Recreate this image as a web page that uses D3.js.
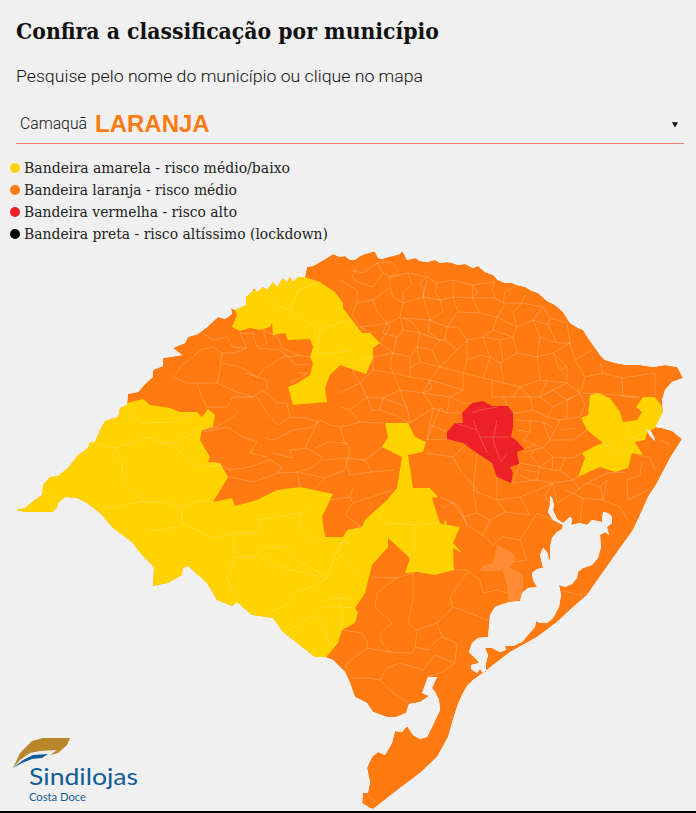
<!DOCTYPE html>
<html>
<head>
<meta charset="utf-8">
<script src="https://cdn.jsdelivr.net/npm/d3@7"></script>
<style>
  html, body { margin: 0; padding: 0; background: #f0f0f0; overflow: hidden; }
  svg { display: block; }
</style>
</head>
<body>
<div id="chart"></div>
<script>
// Texts
const titleText = 'Confira a classificação por município';
const subtitleText = 'Pesquise pelo nome do município ou clique no mapa';
const selectedCity = 'Camaquã';
const selectedFlag = 'LARANJA';
const legendLabels = [
    'Bandeira amarela - risco médio/baixo',
    'Bandeira laranja - risco médio',
    'Bandeira vermelha - risco alto',
    'Bandeira preta - risco altíssimo (lockdown)'
];
const legendFlags = ['amarela', 'laranja', 'vermelha', 'preta'];
const legendWidths = [266, 213, 213, 304];

// Map shapes on a plain map grid
const stateOutline = [[16,510],[25,508],[32,502],[42,495],[43,485],[50,477],[58,476],[68,468],[78,455],[88,448],[90,442],[95,442],[100,430],[105,421],[118,417],[120,408],[127,405],[128,394],[138,392],[147,382],[153,377],[153,370],[163,366],[163,358],[170,357],[182,355],[173,348],[185,343],[188,337],[198,334],[207,327],[218,317],[225,319],[232,314],[231,308],[235,310],[246,305],[246,297],[252,292],[254,288],[257,292],[263,287],[267,290],[273,282],[277,287],[283,278],[287,282],[290,277],[293,282],[298,277],[305,277],[307,267],[313,266],[320,262],[327,258],[333,254],[340,257],[345,256],[350,260],[355,260],[360,256],[365,254],[372,252],[375,252],[378,258],[382,259],[388,257],[393,256],[400,254],[402,251],[404,254],[407,260],[415,258],[420,261],[427,262],[435,260],[440,263],[447,262],[452,263],[458,265],[465,264],[473,268],[478,266],[485,272],[493,275],[498,280],[505,283],[512,283],[517,285],[525,287],[532,291],[538,293],[547,301],[555,305],[563,312],[570,323],[578,328],[583,330],[588,338],[593,345],[600,355],[605,360],[615,363],[627,365],[640,365],[653,367],[665,365],[677,367],[680,372],[683,378],[672,382],[665,390],[662,400],[663,412],[655,427],[662,428],[672,431],[682,439],[670,458],[657,483],[648,497],[640,515],[633,530],[620,548],[603,572],[587,595],[572,608],[557,622],[537,637],[510,652],[493,665],[483,673],[473,680],[467,686],[463,693],[458,704],[455,713],[448,737],[437,757],[420,773],[400,788],[373,809],[370,808],[362,803],[363,793],[368,793],[370,782],[367,768],[372,757],[378,752],[385,755],[392,743],[395,731],[402,732],[407,726],[413,735],[420,739],[427,737],[433,725],[440,710],[439,700],[435,692],[432,688],[437,677],[428,677],[422,693],[429,696],[420,702],[409,704],[406,713],[396,717],[387,717],[373,712],[367,703],[355,697],[350,683],[345,672],[333,660],[325,657],[315,657],[283,632],[273,618],[252,615],[237,602],[232,606],[217,600],[207,583],[188,566],[183,568],[182,575],[168,583],[153,586],[154,567],[142,555],[132,542],[113,528],[100,513],[87,503],[77,498],[65,497],[58,503],[57,508],[52,512],[35,512],[25,512],[22,510]];

const patosLagoon = [[550,496],[552,498],[554,505],[553,510],[557,519],[563,523],[570,517],[572,519],[571,525],[575,524],[580,523],[587,525],[592,520],[602,522],[603,512],[608,513],[612,517],[612,523],[607,527],[609,535],[605,532],[600,535],[601,547],[598,558],[592,565],[583,568],[578,572],[577,578],[572,584],[565,587],[559,585],[561,595],[559,607],[553,618],[547,623],[540,623],[536,621],[535,627],[528,635],[522,642],[513,646],[505,646],[506,650],[500,652],[492,648],[485,648],[488,655],[486,663],[486,672],[483,673],[480,669],[477,673],[471,669],[471,665],[479,663],[477,660],[469,652],[472,643],[478,638],[488,637],[489,627],[490,615],[495,607],[503,604],[510,602],[520,601],[522,593],[528,588],[537,587],[533,580],[532,573],[537,569],[543,568],[540,555],[543,548],[547,552],[550,562],[550,547],[552,538],[557,532],[562,529],[563,525],[553,520],[548,512],[550,505],[548,498]];

const smallLagoon = [[646,429],[650,430],[654,437],[655,441],[650,436],[646,434]];

// the flag areas run over the coast a little and are clipped to the state
const yellowNorth = [[231,300],[237,315],[232,327],[240,331],[250,328],[260,330],[270,327],[272,323],[273,335],[285,333],[288,340],[310,339],[313,347],[310,357],[313,363],[310,375],[298,383],[288,387],[293,405],[327,402],[325,388],[330,375],[340,365],[366,374],[373,358],[373,348],[380,343],[370,333],[362,333],[343,308],[343,303],[335,292],[320,282],[305,277],[300,270],[250,270]];

const yellowSouth = [[127,403],[143,399],[150,405],[170,408],[180,412],[197,412],[202,417],[208,409],[215,415],[213,427],[202,430],[200,440],[210,457],[208,462],[220,463],[228,477],[213,502],[232,498],[235,506],[257,500],[277,490],[300,487],[333,494],[322,517],[325,537],[343,537],[347,530],[362,527],[365,520],[387,500],[397,488],[402,457],[382,447],[388,437],[385,423],[408,423],[415,437],[426,442],[423,452],[408,455],[413,488],[430,488],[438,497],[432,498],[440,523],[444,525],[445,518],[447,525],[460,527],[453,543],[462,553],[453,548],[454,570],[435,575],[417,572],[405,573],[410,558],[388,538],[388,547],[372,565],[365,593],[355,608],[358,613],[355,623],[342,630],[338,643],[327,656],[325,660],[300,660],[150,600],[10,520],[10,480],[110,400]];

const yellowEast = [[590,395],[598,393],[610,398],[620,412],[623,422],[637,420],[642,412],[636,407],[643,397],[655,397],[663,408],[662,418],[655,428],[647,433],[645,440],[635,442],[643,455],[632,453],[628,468],[615,472],[600,467],[578,477],[585,458],[582,453],[597,445],[603,443],[587,430],[581,418],[588,415],[592,405]];

const redArea = [[472,403],[483,401],[492,406],[508,406],[513,413],[513,427],[511,437],[516,440],[524,449],[517,452],[519,464],[510,467],[513,473],[511,483],[497,477],[492,463],[477,453],[463,443],[447,439],[447,432],[455,423],[463,423],[462,413],[472,413]];

const camaquaArea = [[497,545],[508,550],[517,558],[510,568],[523,575],[523,590],[520,600],[508,602],[507,585],[502,570],[487,572],[480,570],[482,566],[493,563],[495,553]];

// Municipality borders
const municipalBorders = [
    // north-west
    [[173,377],[182,365],[193,357],[200,350],[213,347]],
    [[173,377],[187,383],[197,383],[217,383],[220,370],[222,353],[213,347]],
    [[197,383],[202,397],[207,407],[227,407],[233,397],[253,397],[263,390]],
    [[217,383],[237,392],[253,397]],
    [[222,363],[243,368],[257,377],[267,380],[267,390]],
    [[263,390],[277,403],[287,403],[290,417],[278,425],[267,413],[257,397]],
    [[233,407],[238,413],[217,427],[202,430]],
    [[203,432],[227,427],[243,437],[257,442],[250,453],[267,457]],
    [[265,438],[272,440],[280,437],[293,430],[310,428],[320,420],[330,425],[340,427],[350,425]],
    [[213,462],[230,470],[250,467],[270,460],[282,467],[278,473],[253,482],[230,477]],
    [[278,473],[297,472],[300,487]],
    [[297,472],[320,477],[325,478],[317,487]],
    [[273,453],[293,458],[290,450],[307,448],[323,458],[313,467],[297,472]],
    [[315,448],[328,442],[347,443],[350,450]],
    [[305,448],[318,422]],
    [[203,333],[213,340],[227,337],[233,347],[247,348],[240,333],[253,333],[257,347],[267,343],[263,330],[278,337],[282,348],[298,355],[310,357]],
    [[222,353],[233,353],[247,348]],
    [[258,348],[280,350],[287,357],[300,355]],
    [[245,373],[257,377],[265,368],[287,355],[295,365],[310,364]],
    [[297,373],[308,373],[290,383]],
    [[290,417],[305,418],[318,422]],
    [[350,450],[345,470],[325,478]],
    // north and centre
    [[350,270],[363,273],[377,263],[383,273],[373,287],[360,283]],
    [[390,277],[408,273],[427,277],[437,283],[453,280],[473,285],[495,282]],
    [[340,280],[357,290],[357,303],[373,300],[390,287],[390,277],[383,273]],
    [[373,300],[377,312],[387,323],[400,317],[403,303],[393,297],[390,287]],
    [[403,303],[423,297],[427,280]],
    [[423,297],[440,300],[453,297],[453,280]],
    [[453,297],[472,298],[473,285]],
    [[472,298],[495,298],[503,303],[522,303],[543,307]],
    [[423,297],[430,320],[447,327],[445,340],[457,350],[467,340],[483,337],[493,330],[497,317],[480,313],[472,298]],
    [[400,317],[403,330],[397,337],[383,333],[387,323]],
    [[430,320],[403,318]],
    [[403,330],[420,333],[440,340],[445,340]],
    [[397,337],[393,353],[410,357],[417,347],[420,333]],
    [[410,357],[410,377],[430,380],[440,367],[457,350]],
    [[393,353],[373,357],[373,370],[393,373],[410,377]],
    [[393,373],[400,390],[423,393],[430,380]],
    [[373,370],[360,383],[367,397],[383,398],[400,390]],
    [[340,393],[360,383]],
    [[367,397],[350,410],[360,422],[383,423]],
    [[350,410],[340,407]],
    [[383,398],[407,407],[410,423],[433,408],[447,413],[462,413]],
    [[423,393],[433,408]],
    [[423,393],[450,397],[463,403],[472,403]],
    [[440,367],[463,373],[463,390],[450,397]],
    [[467,340],[467,360],[463,373]],
    [[463,373],[483,378],[492,380],[492,397],[503,397],[508,406]],
    [[483,337],[490,357],[483,378]],
    [[493,330],[513,337],[517,327],[533,320],[543,307]],
    [[497,317],[517,327]],
    [[513,337],[517,353],[500,363],[503,377]],
    [[517,353],[537,357],[553,353],[570,343],[567,323]],
    [[533,320],[540,337],[537,357]],
    [[540,337],[557,343],[570,343]],
    [[537,357],[540,380],[520,387],[503,383],[503,377]],
    [[540,380],[567,383],[567,367],[553,353]],
    [[520,387],[530,397],[533,410],[517,413],[513,413]],
    [[567,383],[580,393],[585,377],[603,373],[622,378],[655,373]],
    [[530,397],[540,397],[547,380]],
    [[540,397],[553,407],[547,417],[560,420],[580,417]],
    [[533,410],[547,417]],
    [[553,407],[573,397],[580,393]],
    [[517,420],[543,422],[550,440],[543,448],[523,440]],
    [[550,440],[573,440],[587,430]],
    [[560,420],[550,440]],
    [[523,452],[543,448],[553,457],[573,458],[582,453]],
    [[520,463],[540,467],[553,457]],
    [[540,467],[537,480],[553,483],[573,480]],
    [[553,483],[557,503],[573,493],[587,483],[607,473]],
    [[520,463],[513,483],[537,480]],
    [[622,378],[623,397],[640,397]],
    [[583,393],[617,395],[637,397]],
    [[655,373],[655,395]],
    [[380,343],[390,327],[387,323]],
    [[380,343],[393,353]],
    [[427,440],[440,408],[447,413]],
    [[447,439],[427,440]],
    [[426,453],[453,457],[467,443]],
    [[453,457],[462,473],[477,490]],
    [[477,453],[473,490],[497,500]],
    [[497,477],[497,500],[520,497]],
    [[440,497],[453,503],[463,517],[477,513],[473,490]],
    // smaller cells of the north
    [[357,266],[352,278],[360,283]],
    [[377,263],[392,262],[398,270],[390,277]],
    [[408,273],[412,285],[403,292],[403,303]],
    [[427,277],[420,283],[424,290],[423,297]],
    [[437,283],[435,292],[440,300]],
    [[473,285],[478,292],[472,298]],
    [[495,282],[492,290],[495,298]],
    [[503,303],[505,292],[517,285]],
    [[522,303],[525,295]],
    [[543,307],[550,318],[567,323]],
    [[533,320],[548,325],[550,318]],
    [[548,325],[557,343]],
    [[357,303],[352,315],[360,327],[377,325],[387,323]],
    [[360,327],[372,333]],
    [[440,300],[443,312],[430,320]],
    [[453,297],[458,312],[447,327]],
    [[458,312],[480,313]],
    [[467,340],[458,327],[447,327]],
    [[403,318],[412,322],[420,333]],
    [[430,320],[428,332],[440,340]],
    [[417,347],[432,350],[440,340]],
    [[432,350],[440,367]],
    [[497,317],[505,305]],
    [[517,327],[513,312],[522,303]],
    [[483,337],[500,340],[513,337]],
    [[500,340],[503,360]],
    [[490,357],[500,363]],
    [[467,360],[480,355],[490,357]],
    [[393,353],[390,365],[393,373]],
    [[417,347],[420,362],[410,368]],
    [[420,362],[440,367]],
    [[373,357],[362,360],[352,370],[360,383]],
    [[430,380],[447,385],[463,390]],
    [[423,393],[432,388],[430,380]],
    [[400,390],[403,400],[407,407]],
    [[383,398],[380,410],[395,415],[410,423]],
    [[367,397],[372,410],[380,410]],
    [[450,397],[447,413]],
    [[433,408],[430,425],[427,440]],
    [[430,425],[447,432]],
    // smaller cells of the east
    [[503,383],[492,380]],
    [[520,387],[513,397],[503,397]],
    [[513,397],[530,397]],
    [[553,353],[560,370],[567,367]],
    [[585,377],[575,360],[570,343]],
    [[575,360],[592,350]],
    [[603,373],[600,362]],
    [[567,383],[553,390],[540,397]],
    [[553,390],[567,400],[573,397]],
    [[567,400],[567,418]],
    [[580,417],[585,405],[580,393]],
    [[517,430],[530,432],[530,420]],
    [[530,432],[523,440]],
    [[543,422],[553,428]],
    [[560,430],[575,428]],
    [[524,449],[535,445]],
    [[530,455],[540,467]],
    [[530,455],[537,448]],
    [[553,457],[552,470],[560,470],[565,458]],
    [[560,470],[573,480],[578,477]],
    [[540,467],[552,470]],
    [[525,470],[537,472]],
    [[520,475],[530,480],[537,480]],
    [[553,483],[545,495],[550,505]],
    [[573,480],[580,490]],
    [[587,483],[600,487],[607,480]],
    [[607,473],[625,472]],
    [[627,480],[640,475],[642,462]],
    [[632,453],[650,458]],
    [[650,458],[655,470]],
    [[660,440],[670,445]],
    [[600,487],[603,500]],
    [[497,500],[505,512],[530,515]],
    [[477,513],[490,520],[505,512]],
    [[490,520],[483,535]],
    [[463,517],[467,525]],
    [[520,497],[538,490],[553,483]],
    [[520,497],[530,515]],
    // centre-west
    [[350,425],[360,422]],
    [[340,427],[345,445],[347,443]],
    [[325,460],[345,458],[365,460],[382,447]],
    [[345,458],[350,475]],
    [[350,475],[372,472],[395,470]],
    [[330,500],[350,497]],
    [[365,460],[372,472]],
    [[353,503],[345,515],[362,527]],
    // south
    [[443,508],[453,502],[460,508],[467,525],[483,535],[493,545]],
    [[493,545],[502,537],[520,540],[527,560],[515,562]],
    [[520,540],[537,513],[553,520]],
    [[453,570],[467,570],[480,580],[483,593],[497,590],[507,593]],
    [[467,573],[450,597],[453,607],[467,612],[488,620]],
    [[453,607],[437,623],[442,637],[457,643],[455,663]],
    [[437,623],[417,630],[415,647],[428,650],[437,640],[442,637]],
    [[413,573],[413,600],[408,623],[417,630]],
    [[397,577],[377,593],[375,607],[392,623],[380,633],[382,643],[390,652],[412,653],[415,647]],
    [[372,577],[397,578],[415,572]],
    [[342,630],[362,633],[368,643],[367,648],[390,652]],
    [[367,648],[347,663],[345,672]],
    [[350,678],[367,678],[380,680],[390,690],[400,697],[408,703]],
    [[380,680],[387,668],[400,663],[423,670],[435,655],[455,663]],
    [[455,663],[443,672],[427,677]],
    [[450,717],[457,717]],
    [[560,590],[580,595],[587,593]],
    [[370,797],[380,805]],
    [[362,803],[370,795]],
    [[353,487],[350,497],[353,503],[393,490]],
    [[607,480],[603,500],[620,507],[628,520]],
    [[565,490],[583,498],[603,500]],
    [[583,498],[580,522]],
    [[627,480],[628,500],[648,490]],
    // yellow west and south
    [[90,443],[115,448],[140,440],[148,437],[163,443],[177,443],[193,433],[200,430]],
    [[115,448],[122,463],[122,477],[128,487],[140,497],[143,502]],
    [[43,490],[58,502]],
    [[143,400],[132,415],[143,423],[173,422],[197,412]],
    [[170,443],[190,460],[202,467],[220,465]],
    [[100,507],[115,507],[140,502],[163,502],[182,507],[200,500],[213,502]],
    [[182,507],[182,523],[193,528],[213,538],[233,533],[235,557]],
    [[143,532],[177,527],[183,523]],
    [[235,557],[227,577],[237,600]],
    [[235,557],[257,557],[263,547],[287,547],[297,560],[327,577]],
    [[260,557],[283,568],[327,578]],
    [[233,533],[257,533],[260,520],[255,517]],
    [[257,520],[300,513],[307,510]],
    [[300,513],[298,527],[315,543],[327,533]],
    [[327,578],[313,587],[293,593],[290,603],[263,615]],
    [[313,615],[285,632]],
    [[313,615],[325,625],[330,647]],
    [[322,602],[340,597],[350,600]],
    [[340,597],[343,613],[340,633]],
    [[327,578],[340,543],[350,543]],
    [[338,553],[342,543],[360,525]],
    [[338,553],[352,567],[363,577]],
    [[320,607],[340,607],[355,608]],
    [[377,517],[387,523],[417,525],[437,523]],
    [[415,525],[415,543],[408,560]],
    // yellow north
    [[267,300],[290,310],[310,323],[320,330],[347,320]],
    [[290,310],[298,290],[320,282]],
    [[320,330],[317,353],[337,353],[350,350]],
    // yellow east
    [[627,422],[630,437],[642,440]],
    [[603,443],[620,453]],
    // red area
    [[472,413],[480,410],[497,407]],
    [[473,420],[480,437],[507,437],[511,437]],
    [[455,423],[477,430]],
    [[480,437],[487,453]],
    [[497,420],[493,440],[500,460]],
    [[507,453],[500,463]]
];

// Logo
const logoGold = [[13,768],[20,753],[32,741],[43,738],[70,738],[67,745],[58,753],[50,755],[57,750],[40,751],[30,753],[20,760]];
const logoBlue = [[13,768],[23,760],[33,755],[48,754],[42,758],[32,759],[22,763]];

const svgWidth = 696;
const svgHeight = 813;

const flagColor = d3.scaleOrdinal()
    .domain(legendFlags)
    .range(['#ffd200', '#ff7a10', '#ee2027', '#000000']);

const svg = d3.select('#chart')
    .append('svg')
    .attr('width', svgWidth)
    .attr('height', svgHeight)
    .style('background', '#f0f0f0');

// header
svg.append('text')
    .attr('x', 16)
    .attr('y', 39)
    .attr('font-family', '"DejaVu Serif"')
    .attr('font-weight', 700)
    .attr('font-size', 23)
    .attr('textLength', 423)
    .attr('lengthAdjust', 'spacingAndGlyphs')
    .attr('fill', '#111')
    .text(titleText);

svg.append('text')
    .attr('x', 16)
    .attr('y', 82)
    .attr('font-family', 'Roboto')
    .attr('font-weight', 300)
    .attr('font-size', 17)
    .attr('textLength', 407)
    .attr('lengthAdjust', 'spacingAndGlyphs')
    .attr('fill', '#111')
    .text(subtitleText);

// dropdown
svg.append('text')
    .attr('x', 20)
    .attr('y', 129)
    .attr('font-family', 'Roboto')
    .attr('font-weight', 300)
    .attr('font-size', 16)
    .attr('textLength', 67)
    .attr('lengthAdjust', 'spacingAndGlyphs')
    .attr('fill', '#111')
    .text(selectedCity);

svg.append('text')
    .attr('x', 95)
    .attr('y', 132)
    .attr('font-family', '"Liberation Sans"')
    .attr('font-weight', 700)
    .attr('font-size', 24)
    .attr('fill', flagColor('laranja'))
    .text(selectedFlag);

svg.append('path')
    .attr('d', d3.symbol(d3.symbolTriangle, 16)())
    .attr('transform', 'translate(675,124) rotate(180)')
    .attr('fill', '#111');

svg.append('line')
    .attr('x1', 16)
    .attr('x2', 684)
    .attr('y1', 143.5)
    .attr('y2', 143.5)
    .attr('stroke', '#f4826b');

// legend
const legendY = d3.scalePoint()
    .domain(legendFlags)
    .range([168, 234]);

const legend = svg.append('g')
    .selectAll('g')
    .data(legendFlags)
    .enter()
    .append('g')
    .attr('transform', d => `translate(0,${legendY(d)})`);

legend.append('circle')
    .attr('cx', 15)
    .attr('r', 5)
    .attr('fill', d => flagColor(d));

legend.append('text')
    .attr('x', 24)
    .attr('y', 5)
    .attr('font-family', '"DejaVu Serif"')
    .attr('font-size', 15)
    .attr('textLength', (d, i) => legendWidths[i])
    .attr('lengthAdjust', 'spacingAndGlyphs')
    .attr('fill', '#222')
    .text((d, i) => legendLabels[i]);

// map
const stateShape = { type: 'Polygon', coordinates: [stateOutline, patosLagoon, smallLagoon] };

const projection = d3.geoIdentity()
    .fitExtent([[16, 251], [683, 809]], stateShape);

const mapPath = d3.geoPath(projection);

svg.append('clipPath')
    .attr('id', 'state-clip')
    .append('path')
    .datum(stateShape)
    .attr('d', mapPath)
    .attr('clip-rule', 'evenodd');

const map = svg.append('g')
    .attr('clip-path', 'url(#state-clip)');

map.append('path')
    .datum(stateShape)
    .attr('d', mapPath)
    .attr('fill', flagColor('laranja'))
    .attr('fill-rule', 'evenodd');

const areas = [
    { ring: yellowNorth, fill: flagColor('amarela') },
    { ring: yellowSouth, fill: flagColor('amarela') },
    { ring: yellowEast, fill: flagColor('amarela') },
    { ring: redArea, fill: flagColor('vermelha') },
    { ring: camaquaArea, fill: '#ff8b35' }
];

map.selectAll('path.area')
    .data(areas)
    .enter()
    .append('path')
    .attr('class', 'area')
    .attr('d', d => mapPath({ type: 'Polygon', coordinates: [d.ring] }))
    .attr('fill', d => d.fill);

map.append('path')
    .datum({ type: 'MultiLineString', coordinates: municipalBorders })
    .attr('d', mapPath)
    .attr('fill', 'none')
    .attr('stroke', '#fff')
    .attr('stroke-opacity', 0.26)
    .attr('stroke-width', 0.8);

// logo
const logoLine = d3.line().curve(d3.curveLinearClosed);

svg.append('path').attr('d', logoLine(logoGold)).attr('fill', '#b8872b');
svg.append('path').attr('d', logoLine(logoBlue)).attr('fill', '#0f5c99');

svg.append('text')
    .attr('x', 29)
    .attr('y', 785)
    .attr('font-family', 'Lato')
    .attr('font-size', 23)
    .attr('textLength', 109)
    .attr('lengthAdjust', 'spacingAndGlyphs')
    .attr('fill', '#0f5c99')
    .text('Sindilojas');

svg.append('text')
    .attr('x', 29)
    .attr('y', 801)
    .attr('font-family', 'Lato')
    .attr('font-size', 11)
    .attr('textLength', 57)
    .attr('lengthAdjust', 'spacingAndGlyphs')
    .attr('fill', '#0f5c99')
    .text('Costa Doce');

// bottom rule
svg.append('rect')
    .attr('x', 0)
    .attr('y', 811)
    .attr('width', svgWidth)
    .attr('height', 2)
    .attr('fill', '#000');
</script>
</body>
</html>
